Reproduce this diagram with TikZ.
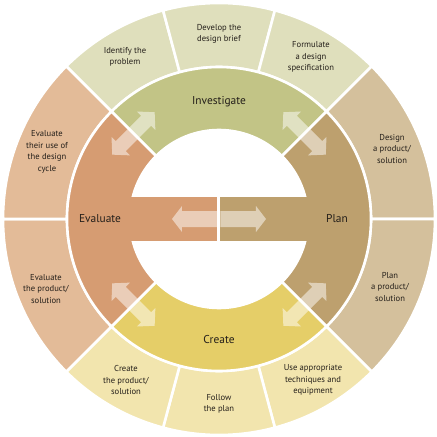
\documentclass[tikz,border=0pt]{standalone}
\usepackage{fontspec}
\setmainfont{PT Sans}
\definecolor{invmid}{HTML}{C2C486}
\definecolor{invout}{HTML}{DFDFBC}
\definecolor{planmid}{HTML}{BDA06E}
\definecolor{planout}{HTML}{D4C09C}
\definecolor{cremid}{HTML}{E5CE68}
\definecolor{creout}{HTML}{F2E5AE}
\definecolor{evamid}{HTML}{D69C72}
\definecolor{evaout}{HTML}{E3BB98}
\definecolor{inktext}{HTML}{241F1A}

\begin{document}
\begin{tikzpicture}[x=1pt,y=1pt,
    part/.style={draw=white,line width=2.6pt,line join=miter},
    ringlabel/.style={font=\fontsize{11.4}{13}\selectfont,text=inktext},
    steplabel/.style={font=\fontsize{8.6}{11.5}\selectfont,text=inktext,align=center},
    flow/.style={fill=white,fill opacity=0.5}]
  \useasboundingbox (-219,-218) rectangle (218,219);
  % outer ring
  \foreach \a/\b/\c in {135/105/invout,105/75/invout,75/45/invout,
                        45/0/planout,0/-45/planout,
                        -45/-75/creout,-75/-105/creout,-105/-135/creout,
                        -135/-180/evaout,180/135/evaout}
    \filldraw[part,fill=\c] (\a:152) -- (\a:216) arc[start angle=\a,end angle=\b,radius=216]
      -- (\b:152) arc[start angle=\b,end angle=\a,radius=152] -- cycle;
  % middle ring
  \foreach \a/\b/\c in {135/45/invmid,45/-45/planmid,-45/-135/cremid,-135/-225/evamid}
    \filldraw[part,fill=\c] (\a:89) -- (\a:152) arc[start angle=\a,end angle=\b,radius=152]
      -- (\b:89) arc[start angle=\b,end angle=\a,radius=89] -- cycle;
  % bar across the hole
  \fill[evamid] (-95,-22) rectangle (-1.5,22);
  \fill[planmid] (1.5,-22) rectangle (95,22);
  % arrows
  \foreach \ang in {135,45,-45,-135}
    \fill[flow,shift={(\ang:121)},rotate=\ang+90]
      (30,0) -- (18,13) -- (18,7) -- (-18,7) -- (-18,13) -- (-30,0)
      -- (-18,-13) -- (-18,-7) -- (18,-7) -- (18,-13) -- cycle;
  \fill[flow] (-1.5,-8) -- (-37,-8) -- (-37,-13) -- (-47,0) -- (-37,13) -- (-37,8) -- (-1.5,8) -- cycle;
  \fill[flow] (1.5,-8) -- (37,-8) -- (37,-13) -- (47,0) -- (37,13) -- (37,8) -- (1.5,8) -- cycle;
  % ring labels
  \node[ringlabel] (investigate) at (0,117) {Investigate};
  \node[ringlabel] (plan) at (118,0) {Plan};
  \node[ringlabel] (create) at (0,-121) {Create};
  \node[ringlabel] (evaluate) at (-119,0) {Evaluate};
  % step labels
  \node[steplabel] (identify) at (-94,162) {Identify the\\problem};
  \node[steplabel] (brief) at (0,185) {Develop the\\design brief};
  \node[steplabel] (formulate) at (92,162) {Formulate\\a design\\specification};
  \node[steplabel] (design) at (173,70) {Design\\a product/\\solution};
  \node[steplabel] (planprod) at (171,-68) {Plan\\a product/\\solution};
  \node[steplabel] (useapp) at (94,-161) {Use appropriate\\techniques and\\equipment};
  \node[steplabel] (follow) at (0,-185) {Follow\\the plan};
  \node[steplabel] (createprod) at (-93,-161) {Create\\the product/\\solution};
  \node[steplabel] (evalprod) at (-173,-70) {Evaluate\\the product/\\solution};
  \node[steplabel] (evaluse) at (-172,67) {Evaluate\\their use of\\the design\\cycle};
\end{tikzpicture}
\end{document}
